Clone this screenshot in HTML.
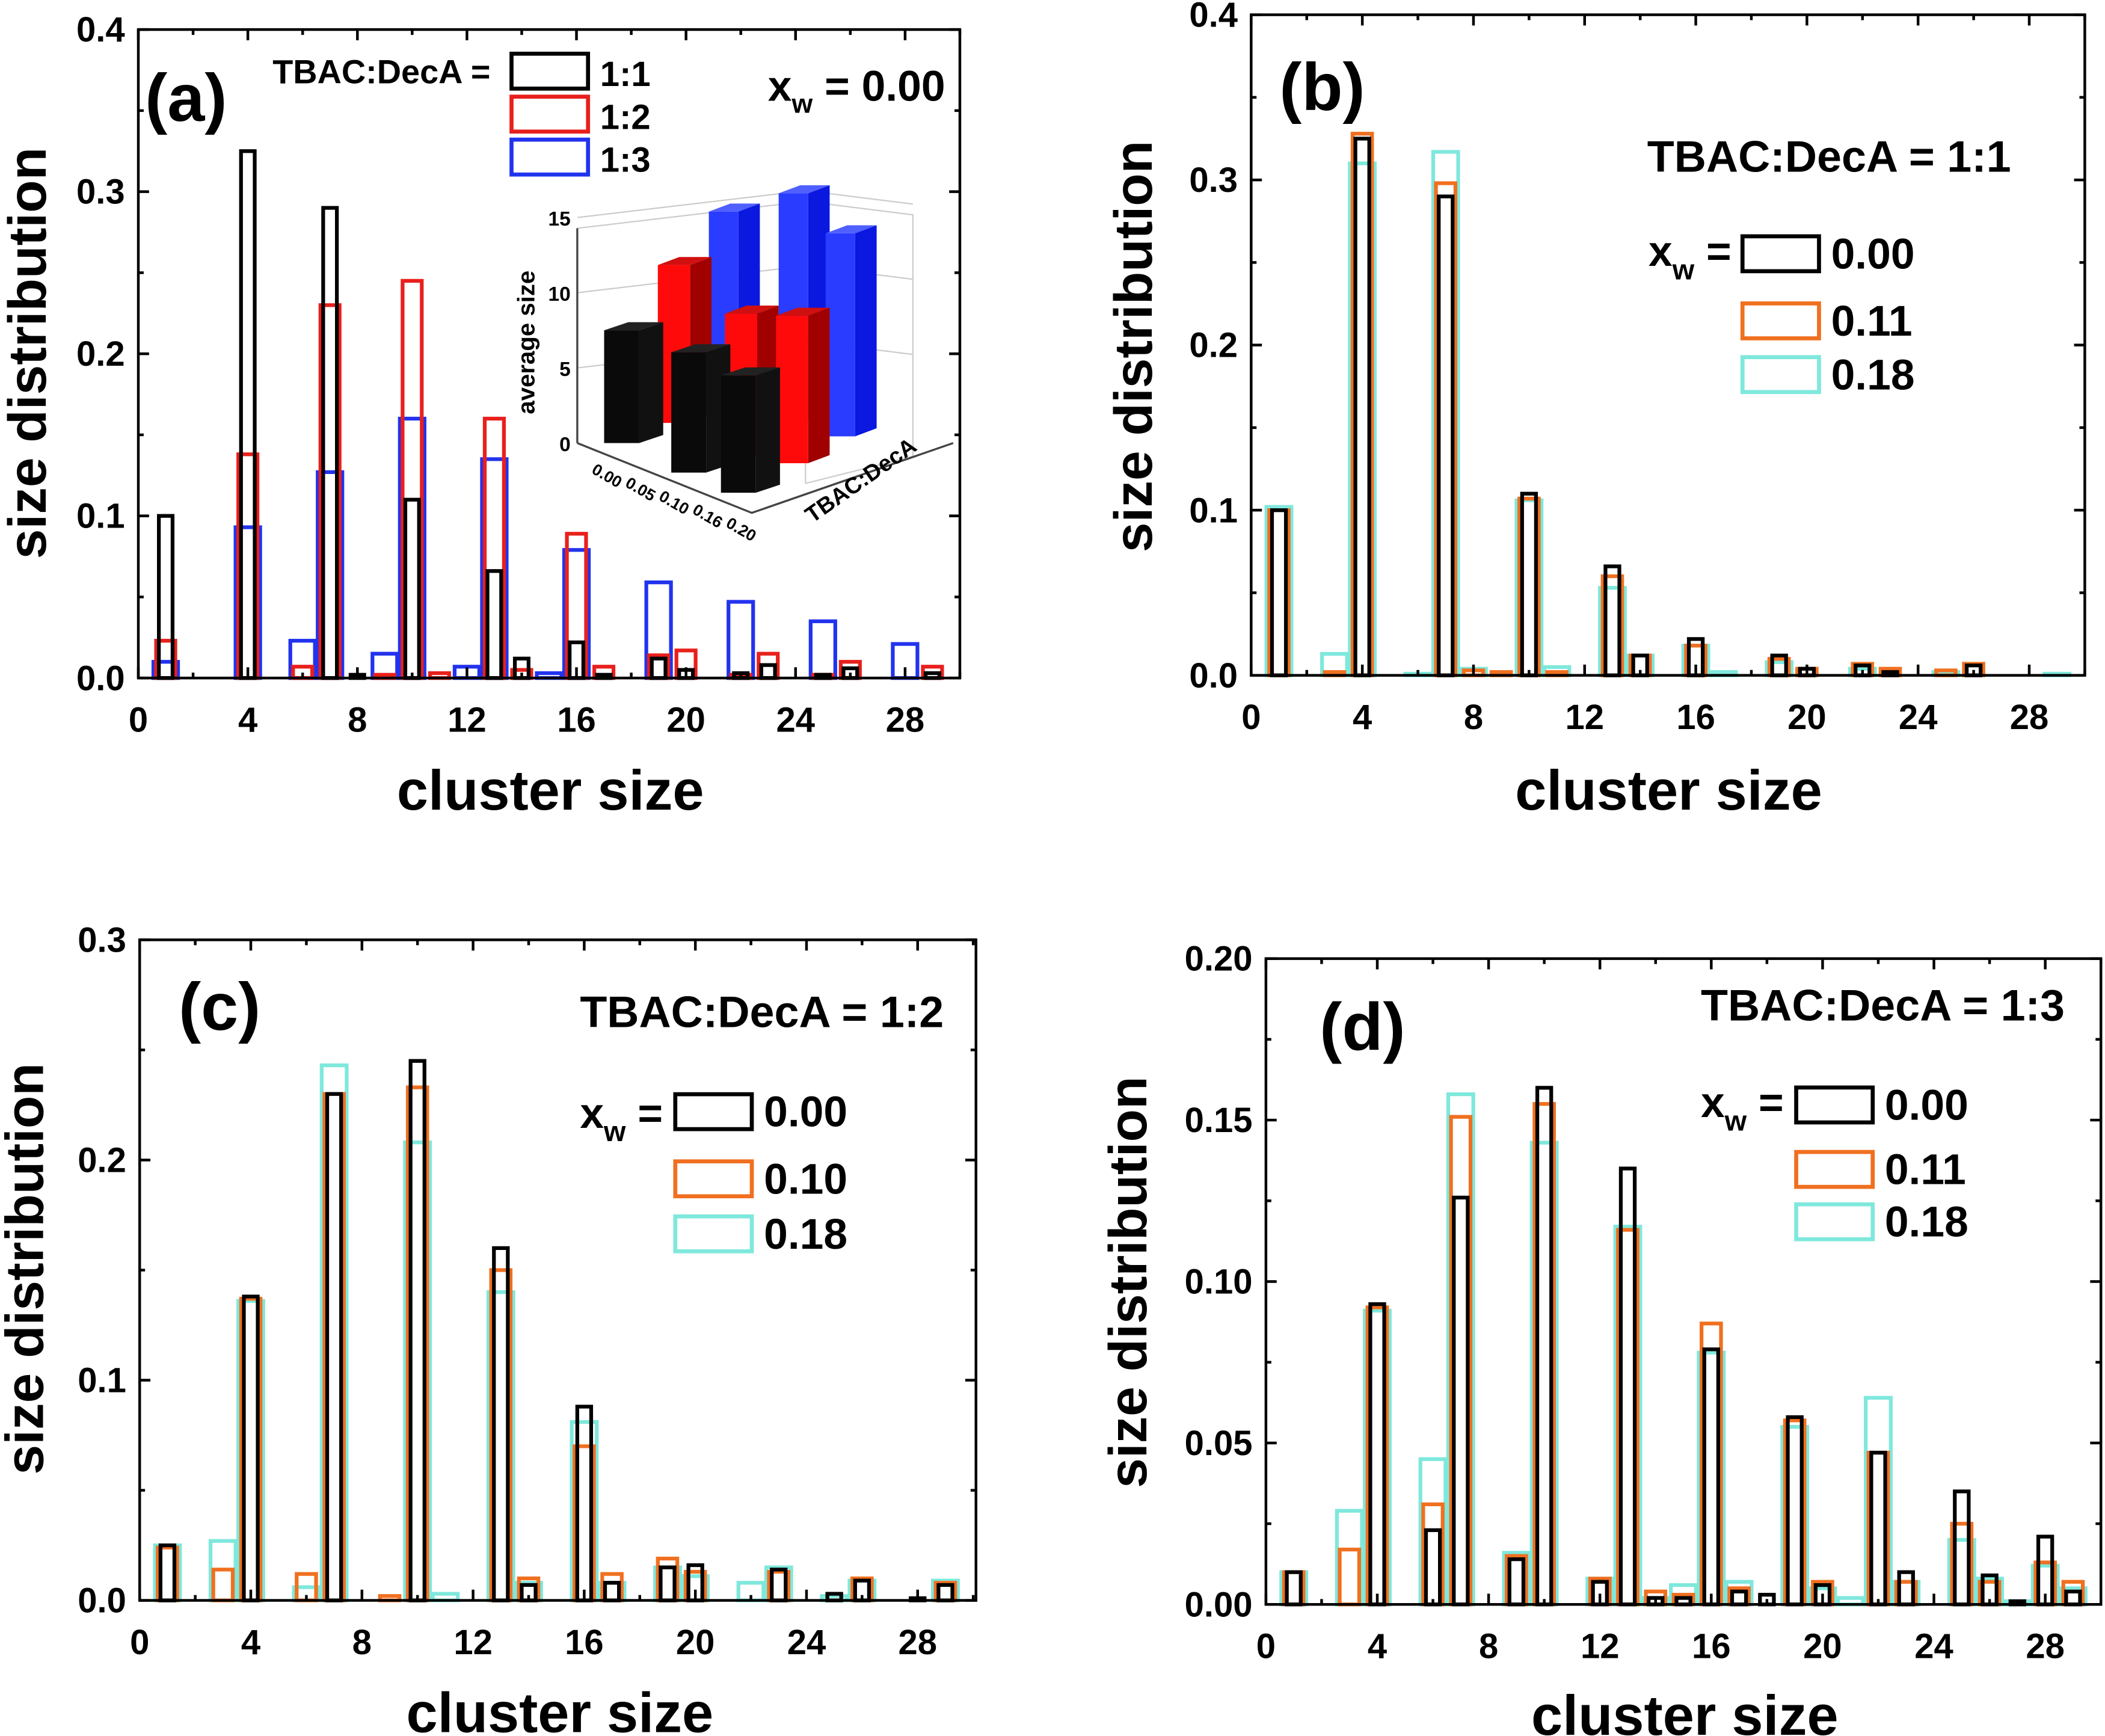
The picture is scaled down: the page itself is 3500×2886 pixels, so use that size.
<!DOCTYPE html>
<html><head><meta charset="utf-8"><style>
html,body{margin:0;padding:0;background:#fff}
svg{display:block}
text{font-family:"Liberation Sans",Arial,sans-serif;font-weight:bold;fill:#000}
</style></head><body>
<svg id="fig" width="3500" height="2886" viewBox="0 0 1568 1293" xmlns="http://www.w3.org/2000/svg">
<g id="root"></g>
</svg>
<script>
const sizes=[1,2,3,4,5,6,7,8,9,10,11,12,13,14,15,16,17,18,19,20,21,22,23,24,25,26,27,28,29];
// panel a
const aBlack=[0.10,0,0,0.325,0,0,0.29,0.002,0,0.11,0,0,0.066,0.012,0,0.022,0.002,0,0.012,0.005,0,0.003,0.008,0,0.002,0.006,0,0,0.003];
const aRed=[0.023,0,0,0.138,0,0.007,0.23,0,0.002,0.245,0.003,0,0.16,0.005,0,0.089,0.007,0,0.014,0.017,0,0.002,0.015,0,0.002,0.01,0,0,0.007];
const aBlue=[0.01,0,0,0.093,0,0.023,0.127,0,0.015,0.16,0,0.007,0.135,0,0.003,0.079,0,0,0.059,0,0,0.047,0,0,0.035,0,0,0.021,0];
// panel b
const bBlack=[0.10,0,0,0.325,0,0,0.29,0,0,0.11,0,0,0.066,0.012,0,0.022,0,0,0.012,0.004,0,0.006,0.002,0,0,0.006,0,0,0];
const bOrange=[0.10,0,0.002,0.328,0,0,0.298,0.003,0.002,0.107,0.002,0,0.06,0.012,0,0.018,0,0,0.01,0.004,0,0.007,0.004,0,0.003,0.007,0,0,0];
const bCyan=[0.102,0,0.013,0.31,0,0.001,0.317,0.004,0,0.106,0.005,0,0.053,0.012,0,0.018,0.002,0,0.008,0,0,0.004,0,0,0.002,0,0,0,0.001];
// panel c
const cBlack=[0.025,0,0,0.138,0,0,0.23,0,0,0.245,0,0,0.16,0.007,0,0.088,0.008,0,0.015,0.016,0,0,0.014,0,0.003,0.009,0,0.001,0.007];
const cOrange=[0.024,0,0.014,0.137,0,0.012,0.23,0,0.002,0.233,0,0,0.15,0.01,0,0.07,0.012,0,0.019,0.013,0,0,0.013,0,0,0.01,0,0,0.008];
const cCyan=[0.025,0,0.027,0.136,0,0.006,0.243,0,0,0.208,0.003,0,0.14,0.008,0,0.081,0.008,0,0.015,0.011,0,0.008,0.015,0,0.002,0.009,0,0,0.009];
// panel d
const dBlack=[0.01,0,0,0.093,0,0.023,0.126,0,0.014,0.16,0,0.007,0.135,0.002,0.002,0.079,0.004,0.003,0.058,0.006,0,0.047,0.01,0,0.035,0.009,0.001,0.021,0.004];
const dOrange=[0.01,0,0.017,0.092,0,0.031,0.151,0,0.015,0.155,0,0.008,0.116,0.004,0.003,0.087,0.005,0,0.057,0.007,0,0.047,0.007,0,0.025,0.007,0,0.013,0.007];
const dCyan=[0.01,0,0.029,0.091,0,0.045,0.158,0,0.016,0.143,0,0.008,0.117,0.002,0.006,0.078,0.007,0,0.055,0.005,0.002,0.064,0.007,0,0.02,0.008,0.001,0.012,0.005];
const xTicks=[0,4,8,12,16,20,24,28];
const yTicksA=["0.0","0.1","0.2","0.3","0.4"];
const yTicksC=["0.0","0.1","0.2","0.3"];
const yTicksD=["0.00","0.05","0.10","0.15","0.20"];
// inset (average size)
const insetBlack=[7.5,8.0,7.8];
const insetRed=[10.5,9.5,9.8];
const insetBlue=[14.5,15.0,13.5];

const NS="http://www.w3.org/2000/svg";
const root=document.getElementById('root');
function el(tag,attrs,parent,txt){const e=document.createElementNS(NS,tag);for(const k in attrs)e.setAttribute(k,attrs[k]);if(txt!==undefined)e.textContent=txt;(parent||root).appendChild(e);return e;}

function panel(id,L,R,T,B,xmax,ymax,yLabels,yMinor,series){
  const g=el('g',{});
  
  
  const xs=v=>L+(v/xmax)*(R-L);
  const ys=v=>B-(v/ymax)*(B-T);
  series.forEach(s=>{
    const sg=el('g',{},g);
    
    
    s.data.forEach((v,i)=>{
      if(v<=0)return;
      const x=sizes[i];
      const r=el('rect',{x:xs(x-s.w/2),y:ys(v),width:xs(x+s.w/2)-xs(x-s.w/2),height:ys(0)-ys(v),fill:'none',stroke:s.color,'stroke-width':2.8},sg);
      
      
    });
  });
  const f=el('rect',{x:L,y:T,width:R-L,height:B-T,fill:'none',stroke:'#000','stroke-width':2},g);
  
  
  for(let v=0;v<=xmax;v+=2){
    const major=v%4===0, len=major?8:4;
    el('line',{x1:xs(v),x2:xs(v),y1:B,y2:B-len,stroke:'#000','stroke-width':2},g);
    el('line',{x1:xs(v),x2:xs(v),y1:T,y2:T+len,stroke:'#000','stroke-width':2},g);
  }
  xTicks.forEach(v=>{
    const t=el('text',{x:xs(v),y:B+40,'font-size':26,'text-anchor':'middle'},g,String(v));
    
    
  });
  const n=yLabels.length-1;
  for(let k=0;k<=n*2;k++){
    const v=ymax*k/(n*2), major=k%2===0, len=major?8:4;
    el('line',{x1:L,x2:L+len,y1:ys(v),y2:ys(v),stroke:'#000','stroke-width':2},g);
    el('line',{x1:R,x2:R-len,y1:ys(v),y2:ys(v),stroke:'#000','stroke-width':2},g);
  }
  yLabels.forEach((s,k)=>{
    const t=el('text',{x:L-10,y:ys(ymax*k/n)+9,'font-size':26,'text-anchor':'end'},g,s);
    
    
  });
  return {g,xs,ys};
}
function legendBox(g,x,y,c,lab,fs){
  const r=el('rect',{x:x,y:y,width:57,height:26,fill:'none',stroke:c,'stroke-width':3},g);
  
  
  const t=el('text',{x:x+66,y:y+24,'font-size':fs||32},g,lab);
  
  
}
function txt(g,x,y,s,size,name,anchor,rot){
  const a={x:x,y:y,'font-size':size,'text-anchor':anchor||'start'};
  if(rot)a.transform='rotate(-90 '+x+' '+y+')';
  const t=el('text',a,g,s);
  
  
  return t;
}
function xw(g,x,y){
  const t=el('text',{x:x,y:y,'font-size':32},g);
  
  
  t.innerHTML='x<tspan font-size="21" dy="10">w</tspan><tspan dy="-10"> =</tspan>';
}
const BL='#000',RD='#e8201c',BU='#2233ee',OR='#f07020',CY='#7fe8dc';
const TF=42, YF=40;

// (a)
let p=panel('a',103,715,22,505,30,0.4,yTicksA,true,[
 {name:'1-3',data:aBlue,color:BU,w:0.9},{name:'1-2',data:aRed,color:RD,w:0.7},{name:'1-1',data:aBlack,color:BL,w:0.5}]);
txt(p.g,108,90,'(a)',50,'panel-label-a');
txt(p.g,203,62,'TBAC:DecA =',25,'legend-title');
legendBox(p.g,381,40,BL,'1:1',26);legendBox(p.g,381,72,RD,'1:2',26);legendBox(p.g,381,104,BU,'1:3',26);
{const t=el('text',{x:572,y:75,'font-size':32},p.g);t.innerHTML='x<tspan font-size="20" dy="9">w</tspan><tspan dy="-9"> = 0.00</tspan>';}
txt(p.g,34,263,'size distribution',YF,'y-axis-title','middle',true);
txt(p.g,410,603,'cluster size',TF,'x-axis-title','middle');
// inset
{
 const ig=el('g',{},p.g);
 const gl={stroke:'#ccc','stroke-width':1,fill:'none'};
 el('polyline',Object.assign({points:'430,170 600,150 680,160 680,340 600,360'},gl),ig);
 el('line',Object.assign({x1:600,y1:150,x2:600,y2:360},gl),ig);
 [5,10,15].forEach(v=>{const yy=330-v*11.2;el('polyline',Object.assign({points:(430)+','+yy+' 600,'+(yy-20)+' 680,'+(yy-10)},gl),ig);});
 el('line',{x1:430,y1:170,x2:430,y2:330,stroke:'#444','stroke-width':1.5},ig);
 el('polyline',{points:'430,330 560,382 710,330',fill:'none',stroke:'#444','stroke-width':1.5},ig);
 [0,5,10,15].forEach(v=>txt(ig,425,336-v*11.2,String(v),15,'inset-y-tick','end'));
 txt(ig,398,255,'average size',18,'inset-y-title','middle',true);
 ['0.00','0.05','0.10','0.16','0.20'].forEach((s,i)=>{const x=440+i*25,y=352+i*10;const t=el('text',{x:x,y:y,'font-size':12,transform:'rotate(30 '+x+' '+y+')'},ig,s);});
 {const x=605,y=390;const t=el('text',{x:x,y:y,'font-size':17,transform:'rotate(-35 '+x+' '+y+')'},ig,'TBAC:DecA');}
 function box(x,yb,h,w,d,c1,c2,c3,name){
   const yt=yb-h*11.2;
   el('polygon',{points:`${x},${yt} ${x+w},${yt} ${x+w+d},${yt-6} ${x+d},${yt-6}`,fill:c3},ig);
   el('polygon',{points:`${x+w},${yt} ${x+w+d},${yt-6} ${x+w+d},${yb-6} ${x+w},${yb}`,fill:c2},ig);
   const r=el('rect',{x:x,y:yt,width:w,height:yb-yt,fill:c1},ig);
   
 }
 const bluePos=[[528,320],[580,312],[615,325]],redPos=[[490,315],[540,340],[578,345]],blackPos=[[450,330],[500,352],[537,367]];
 insetBlue.forEach((v,i)=>box(bluePos[i][0],bluePos[i][1],v,22,16,'#2a3cff','#0a18e0','#5060ff','inset-bar-blue'));
 insetRed.forEach((v,i)=>box(redPos[i][0],redPos[i][1],v,24,16,'#ff0a0a','#a00000','#d01010','inset-bar-red'));
 insetBlack.forEach((v,i)=>box(blackPos[i][0],blackPos[i][1],v,26,18,'#0a0a0a','#111','#222','inset-bar-black'));
}

// (b)
p=panel('b',932,1553,11,503,30,0.4,yTicksA,true,[
 {name:'0.18',data:bCyan,color:CY,w:0.9},{name:'0.11',data:bOrange,color:OR,w:0.7},{name:'0.00',data:bBlack,color:BL,w:0.5}]);
txt(p.g,953,82,'(b)',50,'panel-label-b');
txt(p.g,1227,128,'TBAC:DecA = 1:1',33,'legend-title');
xw(p.g,1228,198);
legendBox(p.g,1298,176,BL,'0.00');legendBox(p.g,1298,226,OR,'0.11');legendBox(p.g,1298,266,CY,'0.18');
txt(p.g,858,258,'size distribution',YF,'y-axis-title','middle',true);
txt(p.g,1243,603,'cluster size',TF,'x-axis-title','middle');

// (c)
p=panel('c',104,727,700,1192,30.1,0.3,yTicksC,true,[
 {name:'0.18',data:cCyan,color:CY,w:0.9},{name:'0.10',data:cOrange,color:OR,w:0.7},{name:'0.00',data:cBlack,color:BL,w:0.5}]);
txt(p.g,133,767,'(c)',50,'panel-label-c');
txt(p.g,432,765,'TBAC:DecA = 1:2',33,'legend-title');
xw(p.g,432,840);
legendBox(p.g,503,815,BL,'0.00');legendBox(p.g,503,865,OR,'0.10');legendBox(p.g,503,906,CY,'0.18');
txt(p.g,32,945,'size distribution',YF,'y-axis-title','middle',true);
txt(p.g,417,1290,'cluster size',TF,'x-axis-title','middle');

// (d)
p=panel('d',943,1565,714,1195,30,0.2,yTicksD,true,[
 {name:'0.18',data:dCyan,color:CY,w:0.9},{name:'0.11',data:dOrange,color:OR,w:0.7},{name:'0.00',data:dBlack,color:BL,w:0.5}]);
txt(p.g,983,782,'(d)',50,'panel-label-d');
txt(p.g,1267,760,'TBAC:DecA = 1:3',33,'legend-title');
xw(p.g,1267,832);
legendBox(p.g,1338,810,BL,'0.00');legendBox(p.g,1338,858,OR,'0.11');legendBox(p.g,1338,897,CY,'0.18');
txt(p.g,854,955,'size distribution',YF,'y-axis-title','middle',true);
txt(p.g,1255,1292,'cluster size',TF,'x-axis-title','middle');
</script>
</body></html>
